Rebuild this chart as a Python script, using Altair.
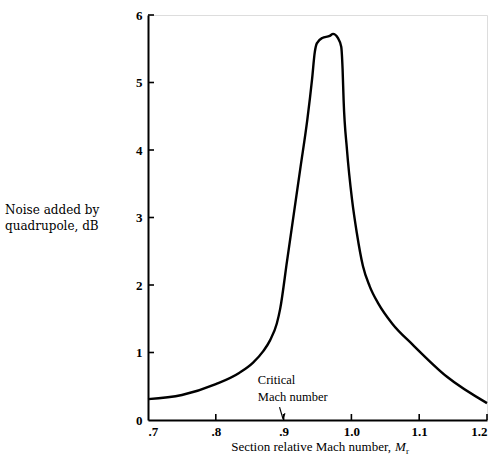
import altair as alt
import pandas as pd

# Noise added by quadrupole vs. section relative Mach number
mach = [0.700, 0.750, 0.800, 0.835, 0.855, 0.870, 0.880, 0.890, 0.895, 0.905,
        0.915, 0.925, 0.935, 0.942, 0.946, 0.949, 0.957, 0.968, 0.973, 0.980,
        0.985, 0.987, 0.9885, 0.9935, 1.001, 1.008, 1.017, 1.027, 1.040, 1.060,
        1.091, 1.141, 1.200]
noise_db = [0.31, 0.37, 0.53, 0.70, 0.85, 1.02, 1.18, 1.43, 1.65, 2.35,
            3.05, 3.75, 4.45, 5.05, 5.45, 5.58, 5.66, 5.69, 5.72, 5.66,
            5.53, 5.20, 4.74, 4.00, 3.26, 2.77, 2.28, 1.98, 1.72, 1.43,
            1.11, 0.64, 0.25]

x_ticks = [0.7, 0.8, 0.9, 1.0, 1.1, 1.2]
y_ticks = [0, 1, 2, 3, 4, 5, 6]

FONT = "Liberation Serif"
W, H = 339, 405

curve_df = pd.DataFrame({"mach": mach, "noise": noise_db})
xt_df = pd.DataFrame({"t": x_ticks[1:]})
yt_df = pd.DataFrame({"t": y_ticks[1:]})

xscale = alt.Scale(domain=[0.7, 1.2], nice=False, zero=False)
yscale = alt.Scale(domain=[0, 6], nice=False)

x_axis = alt.Axis(
    values=x_ticks, ticks=False, grid=False,
    domainColor="black", domainWidth=2,
    labelExpr="datum.value < 0.95 ? substring(format(datum.value, '.1f'), 1) : format(datum.value, '.1f')",
    labelFont=FONT, labelFontSize=13, labelFontWeight="bold", labelColor="black",
    labelPadding=5, title=None,
)
y_axis = alt.Axis(
    values=y_ticks, ticks=False, grid=False,
    domainColor="black", domainWidth=2, format="d",
    labelFont=FONT, labelFontSize=13, labelFontWeight="bold", labelColor="black",
    labelPadding=6, title=None,
)

curve = alt.Chart(curve_df).mark_line(
    color="black", strokeWidth=2.4, interpolate="monotone"
).encode(
    x=alt.X("mach:Q", scale=xscale, axis=x_axis),
    y=alt.Y("noise:Q", scale=yscale, axis=y_axis),
)

# inward-pointing tick marks
x_tick_marks = alt.Chart(xt_df).mark_rule(color="black", strokeWidth=1.6).encode(
    x=alt.X("t:Q", scale=xscale),
    y=alt.value(H),
    y2=alt.value(H - 6),
)
y_tick_marks = alt.Chart(yt_df).mark_rule(color="black", strokeWidth=1.6).encode(
    y=alt.Y("t:Q", scale=yscale),
    x=alt.value(0),
    x2=alt.value(6),
)

# "Critical Mach number" annotation with its pointer
note_df = pd.DataFrame({"mach": [0.862, 0.862], "noise": [0.59, 0.34],
                        "text": ["Critical", "Mach number"]})
note = alt.Chart(note_df).mark_text(
    align="left", baseline="middle", font=FONT, fontSize=12.5, color="black"
).encode(
    x=alt.X("mach:Q", scale=xscale),
    y=alt.Y("noise:Q", scale=yscale),
    text="text:N",
)
ptr_df = pd.DataFrame({"x1": [0.894, 0.899], "y1": [0.19, 0.02],
                       "x2": [0.899, 0.902], "y2": [0.02, 0.10]})
pointer = alt.Chart(ptr_df).mark_rule(color="black", strokeWidth=1.2).encode(
    x=alt.X("x1:Q", scale=xscale),
    y=alt.Y("y1:Q", scale=yscale),
    x2="x2:Q",
    y2="y2:Q",
)

# axis titles drawn as text
ytitle_df = pd.DataFrame({"text": ["Noise added by", "quadrupole, dB"], "py": [195, 211]})
ytitle = alt.Chart(ytitle_df).mark_text(
    align="left", baseline="middle", font="DejaVu Serif", fontSize=12, color="black"
).encode(x=alt.value(-143), y=alt.Y("py:Q", scale=None), text="text:N")

xtitle_df = pd.DataFrame({"text": ["Section relative Mach number,"], "px": [243]})
xtitle = alt.Chart(xtitle_df).mark_text(
    align="right", baseline="middle", font=FONT, fontSize=13, color="black"
).encode(x=alt.X("px:Q", scale=None), y=alt.value(432), text="text:N")
m_df = pd.DataFrame({"text": ["M"], "px": [247]})
m_sym = alt.Chart(m_df).mark_text(
    align="left", baseline="middle", font=FONT, fontSize=13, fontStyle="italic", color="black"
).encode(x=alt.X("px:Q", scale=None), y=alt.value(432), text="text:N")
r_df = pd.DataFrame({"text": ["r"], "px": [258]})
r_sym = alt.Chart(r_df).mark_text(
    align="left", baseline="middle", font=FONT, fontSize=9, color="black"
).encode(x=alt.X("px:Q", scale=None), y=alt.value(436), text="text:N")

chart = alt.layer(
    curve, x_tick_marks, y_tick_marks, note, pointer, ytitle, xtitle, m_sym, r_sym
).properties(
    width=W, height=H,
    autosize=alt.AutoSizeParams(type="none"),
    padding={"left": 148, "top": 15, "right": 12, "bottom": 43},
).configure_view(stroke=None).configure(background="white")

chart.save("out.html", embed_options={"renderer": "svg", "actions": False})
